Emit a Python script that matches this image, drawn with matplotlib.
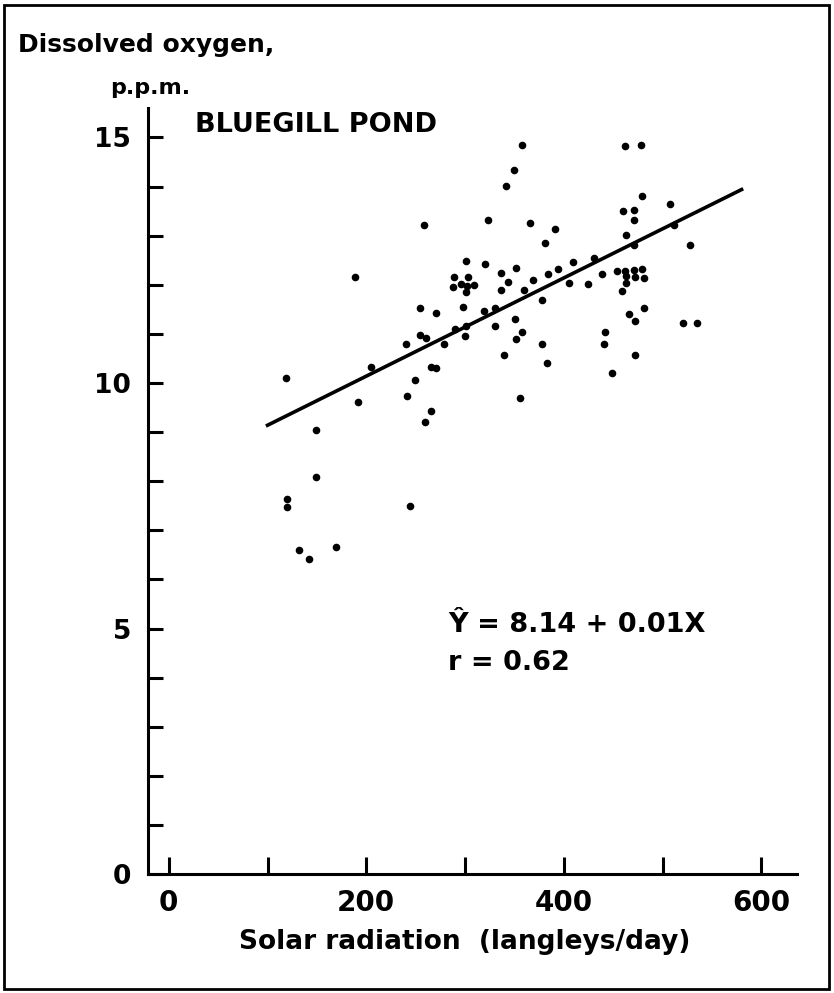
import matplotlib
matplotlib.use('Agg')
import matplotlib.pyplot as plt
from matplotlib.patches import Rectangle

plt.rcParams['font.family'] = ['DejaVu Sans']
plt.rcParams['font.weight'] = 'bold'

# solar radiation (langleys/day) vs dissolved oxygen (p.p.m.)
solar = [118.6, 119.3, 119.3, 148.7, 149.0, 132.1, 142.2, 169.6, 191.9, 188.8,
         204.4, 265.5, 259.8, 244.2,
         357.4, 350.0, 341.5, 258.1, 323.6, 366.2, 390.9, 381.0, 300.7, 320.6,
         409.8, 351.7, 336.8, 393.9, 383.8, 288.8, 302.7, 368.6, 343.6, 287.5,
         296.3, 302.0, 309.1, 300.7, 336.8, 360.1, 405.1, 377.7, 254.4, 270.6,
         297.9, 319.3, 330.4, 350.4, 290.2, 301.0, 330.4, 357.4, 351.7, 254.7,
         260.5, 240.2, 278.7, 299.7, 339.5, 378.3, 383.1, 265.2, 270.3, 249.3,
         241.5, 356.0,
         462.2, 478.0, 479.4, 459.8, 470.9, 507.4, 470.9, 463.2, 511.8, 527.3,
         470.9, 431.0, 424.0, 439.1, 454.3, 461.8, 470.9, 479.4, 462.5, 471.9,
         481.4, 462.5, 459.1, 481.1, 465.9, 471.6, 520.6, 534.4, 441.6, 440.6,
         472.3, 449.0]
oxygen = [10.11, 7.63, 7.48, 9.05, 8.08, 6.59, 6.41, 6.66, 9.61, 12.15,
          10.33, 9.42, 9.20, 7.50,
          14.84, 14.34, 14.02, 13.22, 13.32, 13.25, 13.13, 12.86, 12.48, 12.42,
          12.46, 12.35, 12.25, 12.32, 12.21, 12.15, 12.16, 12.10, 12.06, 11.96,
          12.01, 11.97, 12.00, 11.85, 11.90, 11.89, 12.03, 11.69, 11.53, 11.43,
          11.54, 11.47, 11.52, 11.30, 11.09, 11.17, 11.17, 11.04, 10.90, 10.98,
          10.92, 10.80, 10.79, 10.96, 10.58, 10.79, 10.41, 10.33, 10.31, 10.07,
          9.73, 9.70,
          14.82, 14.84, 13.81, 13.50, 13.52, 13.64, 13.32, 13.01, 13.21, 12.82,
          12.82, 12.55, 12.01, 12.21, 12.28, 12.29, 12.30, 12.32, 12.18, 12.15,
          12.14, 12.04, 11.87, 11.53, 11.40, 11.26, 11.22, 11.23, 11.04, 10.79,
          10.57, 10.21]

# fitted line Y = 8.14 + 0.01X
intercept = 8.14
slope = 0.01
line_x = [100, 580]

fig = plt.figure(figsize=(8.34, 9.93), dpi=100)
ax = fig.add_axes([0.1775, 0.1198, 0.778, 0.7714])

ax.scatter(solar, oxygen, s=20, color='black', zorder=3)
ax.plot(line_x, [intercept + slope * v for v in line_x], color='black', lw=2.6)

ax.set_xlim(-21, 636)
ax.set_ylim(0, 15.6)

for side in ['top', 'right']:
    ax.spines[side].set_visible(False)
for side in ['left', 'bottom']:
    ax.spines[side].set_linewidth(2.2)

ax.set_xticks(range(0, 601, 100))
ax.set_xticklabels(['0', '', '200', '', '400', '', '600'])
ax.set_yticks(range(0, 16))
ax.set_yticklabels([str(v) if v % 5 == 0 else '' for v in range(0, 16)])
ax.tick_params(axis='x', direction='in', length=12, width=2.2, labelsize=20, pad=11)
ax.tick_params(axis='y', direction='in', length=11, width=2.2, labelsize=19, pad=12)

ax.text(0.072, 0.978, 'BLUEGILL POND', transform=ax.transAxes, fontsize=19.5,
        va='center', ha='left')
ax.text(0.462, 0.325, 'Ŷ = 8.14 + 0.01X', transform=ax.transAxes,
        fontsize=19.5, va='center', ha='left')
ax.text(0.462, 0.276, 'r = 0.62', transform=ax.transAxes, fontsize=19.5,
        va='center', ha='left')

fig.text(0.022, 0.955, 'Dissolved oxygen,', fontsize=18, va='center', ha='left')
fig.text(0.132, 0.911, 'p.p.m.', fontsize=16, va='center', ha='left')
fig.text(0.557, 0.051, 'Solar radiation  (langleys/day)', fontsize=19,
         va='center', ha='center')

fig.patches.append(Rectangle((0.005, 0.004), 0.989, 0.991, transform=fig.transFigure,
                             fill=False, lw=2, edgecolor='black'))

fig.savefig('out.png', dpi=100)
